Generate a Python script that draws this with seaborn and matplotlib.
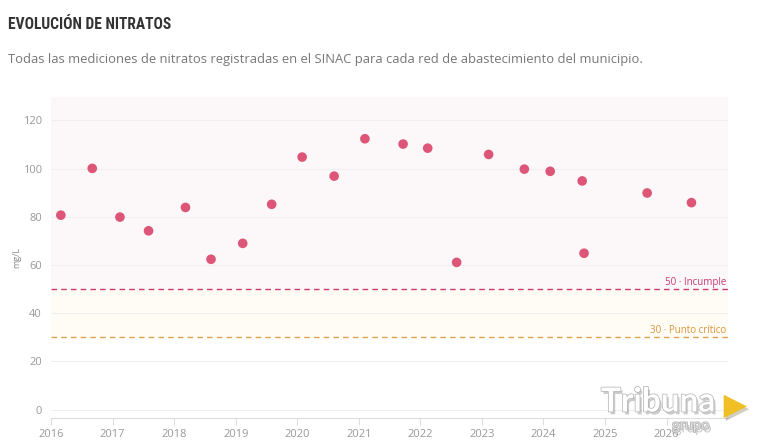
import pandas as pd
import matplotlib.pyplot as plt
import matplotlib.patheffects as pe
import seaborn as sns

fechas = [2016.16, 2016.67, 2017.12, 2017.585, 2018.185, 2018.60, 2019.115,
          2019.585, 2020.08, 2020.60, 2021.10, 2021.72, 2022.12, 2022.59,
          2023.11, 2023.69, 2024.11, 2024.63, 2024.66, 2025.685, 2026.405]
nitratos = [80.7, 100.1, 79.9, 74.2, 83.9, 62.4, 69.0, 85.2, 104.8, 96.9,
            112.4, 110.2, 108.5, 61.1, 105.9, 99.8, 98.9, 94.9, 64.9, 89.9, 85.9]
anios = list(range(2016, 2027))
y_ticks = [0, 20, 40, 60, 80, 100, 120]
limite_incumple = 50
limite_critico = 30

df = pd.DataFrame({'fecha': fechas, 'nitratos': nitratos})

sns.set_theme(style='white')
plt.rcParams['font.family'] = ['Open Sans', 'DejaVu Sans']

fig = plt.figure(figsize=(7.6, 4.46), dpi=100)
ax = fig.add_axes([0.0671, 0.0621, 0.8909, 0.7197])

# background bands
ax.axhspan(limite_incumple, 130, color='#fcf7f9', zorder=0, lw=0)
ax.axhspan(limite_critico, limite_incumple, color='#fffbf5', zorder=0, lw=0)

for v in y_ticks:
    ax.axhline(v, color='#efefef', lw=0.8, zorder=1)

ax.axhline(limite_incumple, color='#c93a72', lw=1.0, ls=(0, (4, 3)), zorder=2)
ax.axhline(limite_critico, color='#e0a24a', lw=1.0, ls=(0, (4, 3)), zorder=2)
ax.text(2026.97, limite_incumple + 0.6, '50 · Incumple', color='#c93a72',
        fontsize=7, ha='right', va='bottom')
ax.text(2026.97, limite_critico + 0.6, '30 · Punto crítico', color='#d9963a',
        fontsize=7, ha='right', va='bottom')

sns.scatterplot(data=df, x='fecha', y='nitratos', ax=ax, color='#dd5577',
                s=48, edgecolor='none', zorder=3)

ax.set_xlim(2016, 2027)
ax.set_ylim(-3.6, 129.6)
ax.set_xticks(anios)
ax.set_xticklabels([str(a) for a in anios])
ax.set_yticks(y_ticks)
ax.set_xlabel('')
ax.set_ylabel('mg/L', fontsize=6.5, color='#888888', labelpad=1)
ax.tick_params(axis='x', colors='#dddddd', labelcolor='#999999', labelsize=8,
               length=5, width=0.8, bottom=True, pad=3)
ax.tick_params(axis='y', labelcolor='#999999', labelsize=8, length=0, pad=6.5)
for s in ['left', 'right', 'top']:
    ax.spines[s].set_visible(False)
ax.spines['bottom'].set_color('#dddddd')
ax.spines['bottom'].set_linewidth(0.8)
ax.set_facecolor('white')

fig.text(0.0105, 0.934, 'EVOLUCIÓN DE NITRATOS', fontsize=11.2, fontweight='bold',
         color='#333333', family=['Roboto Condensed', 'Roboto', 'DejaVu Sans'])
fig.text(0.0105, 0.858, 'Todas las mediciones de nitratos registradas en el SINAC '
         'para cada red de abastecimiento del municipio.',
         fontsize=9.4, color='#777777')

# watermark
sombra = [pe.SimplePatchShadow(offset=(1.5, -2), shadow_rgbFace='#555555', alpha=0.3),
          pe.Stroke(linewidth=1.0, foreground='#b0b0b0'), pe.Normal()]
fig.text(0.941, 0.066, 'Tribuna', fontsize=24, fontweight='bold', color='white',
         ha='right', va='bottom', family=['Lato', 'DejaVu Sans'], path_effects=sombra)
fig.text(0.934, 0.030, 'grupo', fontsize=10.5, color='#e0e0e0', ha='right',
         va='bottom', family=['Lato', 'DejaVu Sans'], path_effects=sombra)
fig.text(0.983, 0.090, '▶', fontsize=22, color='#efbf25', ha='right',
         va='center', family=['DejaVu Sans'],
         path_effects=[pe.SimplePatchShadow(offset=(1.5, -2), alpha=0.25), pe.Normal()])

plt.savefig('out.png', dpi=100)
